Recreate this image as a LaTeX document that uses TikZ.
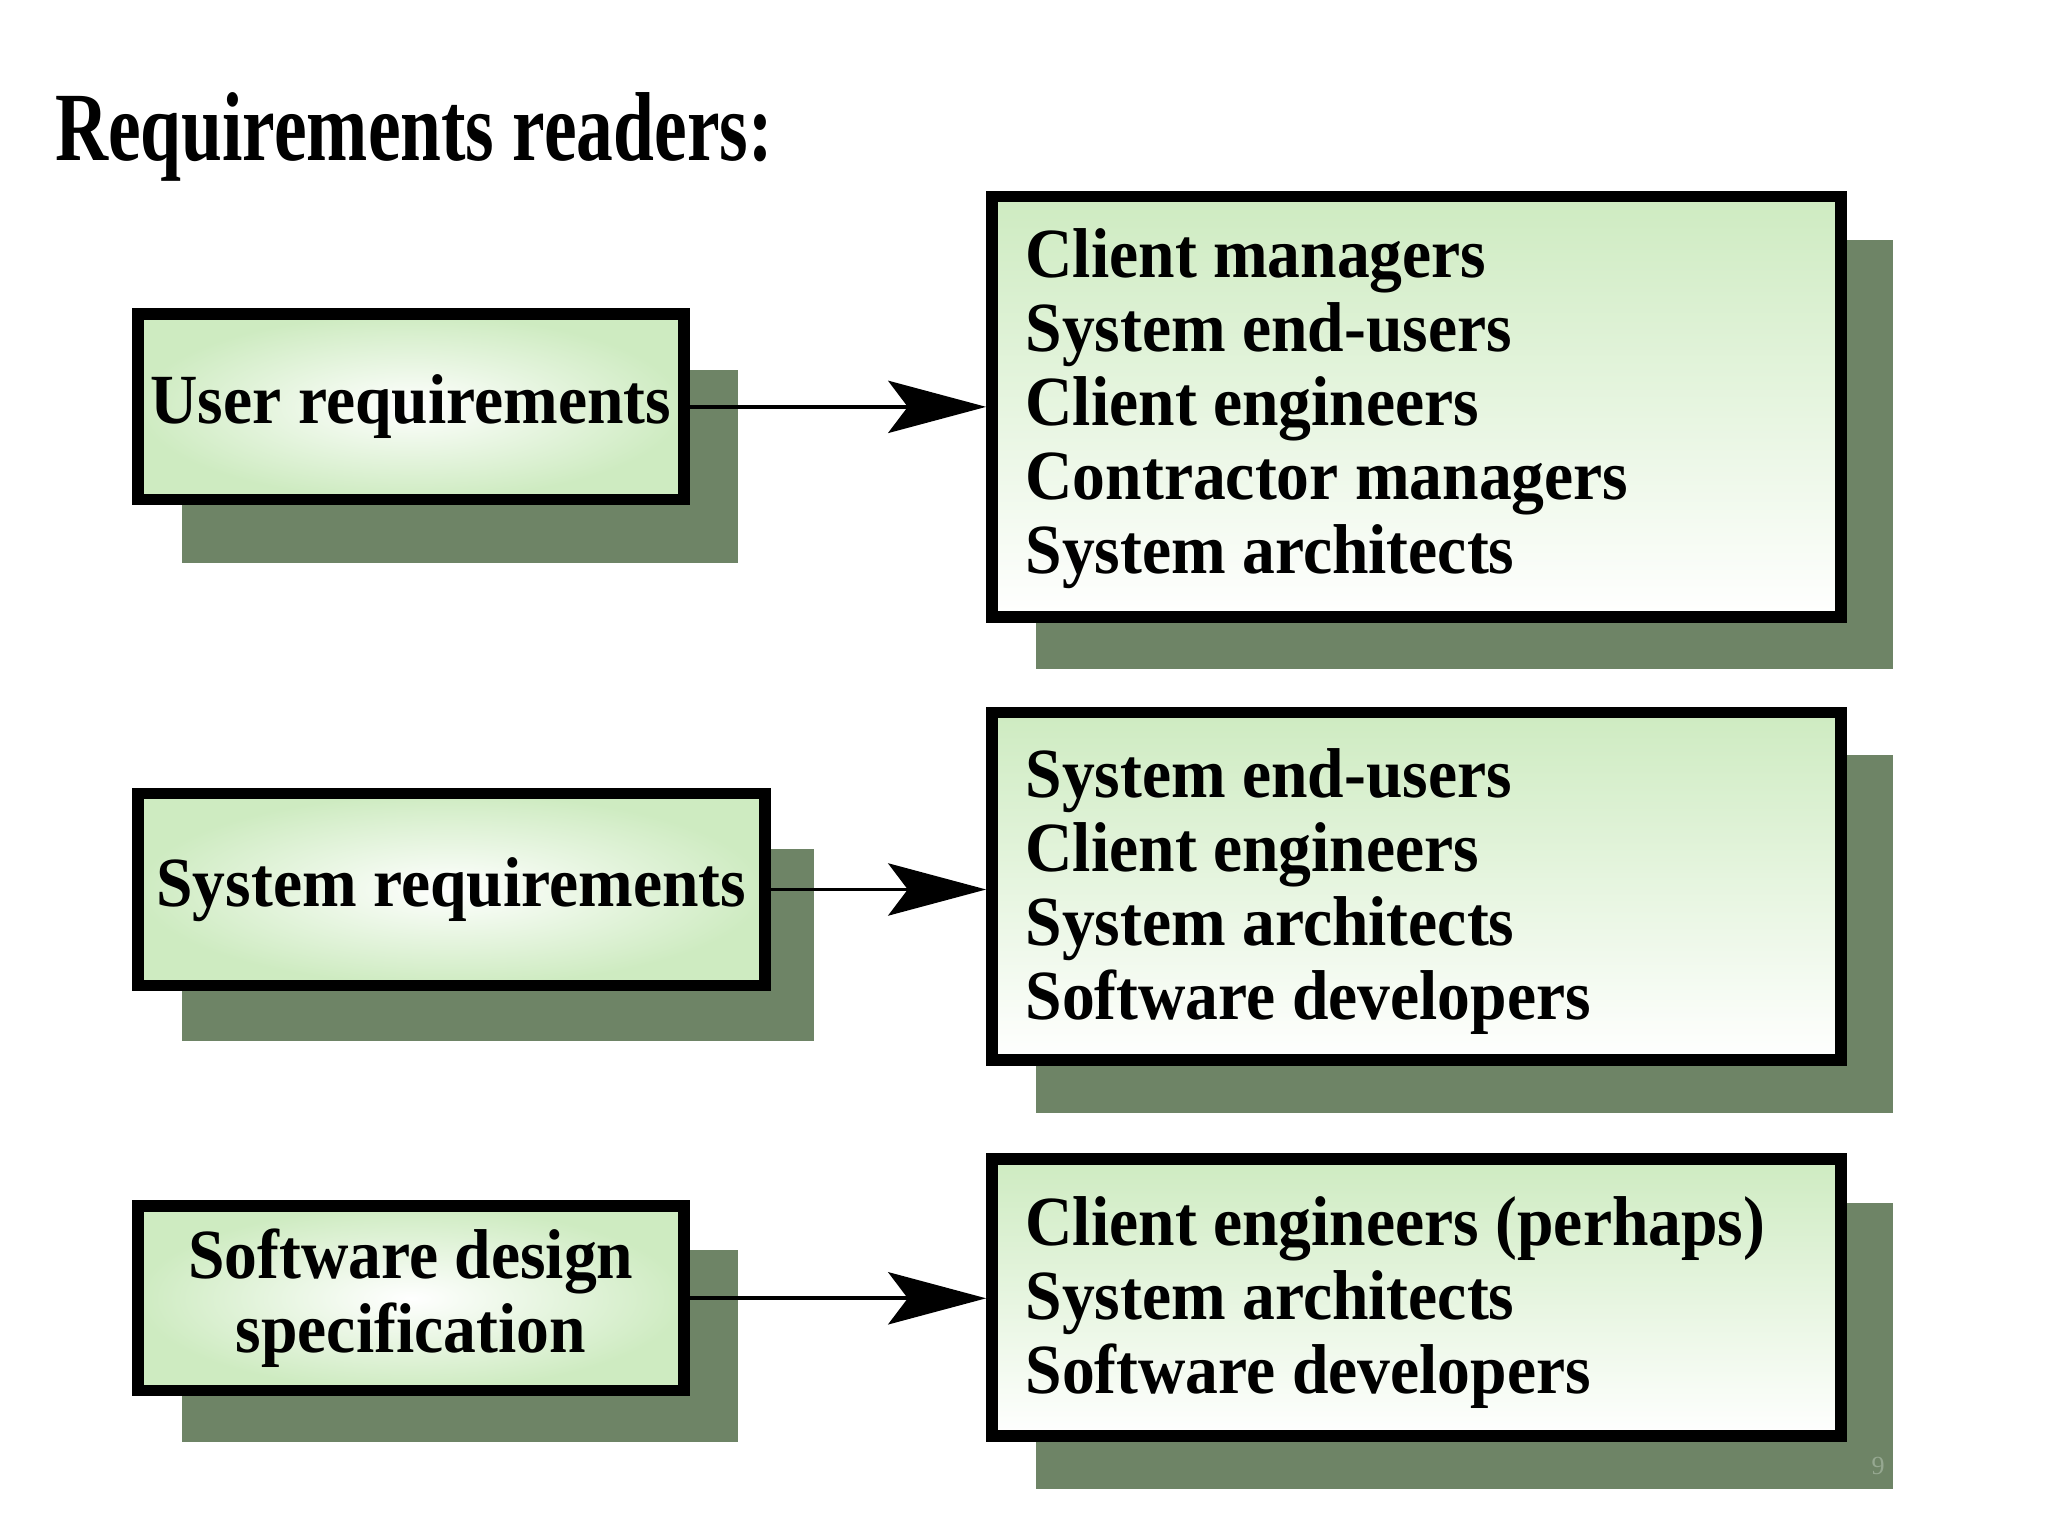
\documentclass[tikz,border=0pt]{standalone}
\usepackage{fontspec}
\setmainfont{Liberation Serif}
\newfontfamily\boxfont[FakeStretch=0.93]{Liberation Serif}
\newfontfamily\titlefont[FakeStretch=0.75]{Liberation Serif}
\usetikzlibrary{arrows.meta}
\definecolor{shadowc}{RGB}{110,132,102}
\definecolor{lightg}{RGB}{206,235,193}
\definecolor{pagenum}{RGB}{150,168,145}
\begin{document}
\begin{tikzpicture}[x=1pt,y=-1pt,
  shadowbox/.style={fill=shadowc},
  srcbox/.style={draw=black, line width=9pt, inner color=white, outer color=lightg,
    font=\boxfont\bfseries\fontsize{54}{56.8}\selectfont, align=center, inner sep=0pt},
  readbox/.style={draw=black, line width=9pt, top color=lightg, bottom color=white, inner sep=0pt},
  readlist/.style={anchor=north west, inner sep=0pt, align=left,
    font=\boxfont\bfseries\fontsize{54}{56.8}\selectfont},
  flow/.style={line width=3pt, -{Stealth[length=75pt,width=40pt,inset=15pt]}},
]
\useasboundingbox[fill=white] (0,0) rectangle (1568,1176);

% title
\node[anchor=base west, inner sep=0pt, font=\titlefont\bfseries\fontsize{75}{80}\selectfont] (title) at (42,122.5) {Requirements readers:};

% shadows
\fill[shadowbox] (139,283) rectangle (565,431);
\fill[shadowbox] (139,650) rectangle (623,797);
\fill[shadowbox] (139,957) rectangle (565,1104);
\fill[shadowbox] (793,184) rectangle (1449,512);
\fill[shadowbox] (793,578) rectangle (1449,852);
\fill[shadowbox] (793,921) rectangle (1449,1140);

% source documents
\node[srcbox, minimum width=418pt, minimum height=142pt] (B1) at (314.5,311.5) {User requirements};
\node[srcbox, minimum width=480pt, minimum height=147pt] (B2) at (345.5,681) {System requirements};
\node[srcbox, minimum width=418pt, minimum height=141pt] (B3) at (314.5,994) {Software design\\specification};

% reader boxes
\node[readbox, minimum width=650pt, minimum height=322pt] (R1) at (1084.5,311.5) {};
\node[readbox, minimum width=650pt, minimum height=266pt] (R2) at (1084.5,678.5) {};
\node[readbox, minimum width=650pt, minimum height=212pt] (R3) at (1084.5,993.5) {};

\node[readlist] (L1) at (785,172) {\rule{0pt}{40pt}Client managers\\System end-users\\Client engineers\\Contractor managers\\System architects};
\node[readlist] (L2) at (785,570) {\rule{0pt}{40pt}System end-users\\Client engineers\\System architects\\Software developers};
\node[readlist] (L3) at (785,913) {\rule{0pt}{40pt}Client engineers (perhaps)\\System architects\\Software developers};

% connectors
\draw[flow] (B1.east) -- (B1.east -| R1.west);
\draw[flow] (B2.east) -- (B2.east -| R2.west);
\draw[flow] (B3.east) -- (B3.east -| R3.west);

% page number
\node[font=\fontsize{20}{20}\selectfont, text=pagenum, inner sep=0pt] (pg) at (1438,1122) {9};
\end{tikzpicture}
\end{document}
